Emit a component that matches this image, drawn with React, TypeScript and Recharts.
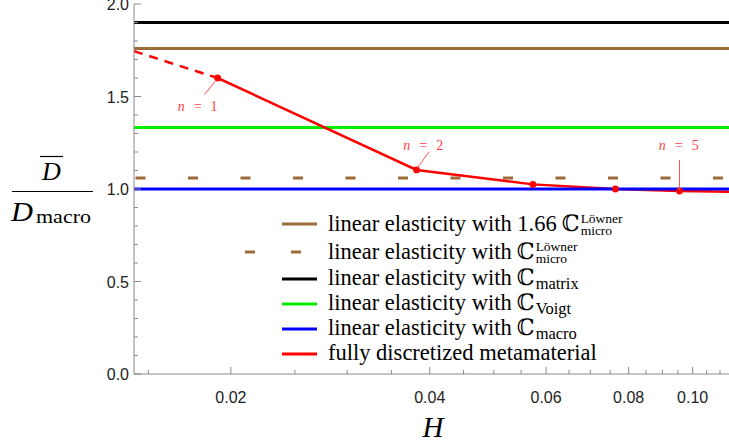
import { Legend, Line, LineChart, ReferenceLine, XAxis, YAxis } from "recharts";

// discretized metamaterial, n = 1..5
const nValues = [1, 2, 3, 4, 5];
const hValues = [0.0191, 0.0382, 0.0573, 0.0764, 0.0955];
const ratioValues = [1.6, 1.103, 1.025, 1.0, 0.989];
const tailH = 0.1135;
const tailRatio = 0.985;

// dashed extrapolation towards small H
const extrapH = [0.01427, 0.0191];
const extrapRatio = [1.745, 1.6];

// constant reference levels
const matrixLevel = 1.9;
const loewner166Level = 1.76;
const voigtLevel = 1.333;
const loewnerLevel = 1.06;
const macroLevel = 1.0;

const xDomain = [0.01427, 0.1135];
const xTicks = [
  0.015, 0.02, 0.025, 0.03, 0.035, 0.04, 0.045, 0.05, 0.055, 0.06, 0.065, 0.07,
  0.075, 0.08, 0.085, 0.09, 0.095, 0.1, 0.105, 0.11,
];
const xLabelTicks = [0.02, 0.04, 0.06, 0.08, 0.1];
const yTicks = [
  0, 0.1, 0.2, 0.3, 0.4, 0.5, 0.6, 0.7, 0.8, 0.9, 1.0, 1.1, 1.2, 1.3, 1.4, 1.5,
  1.6, 1.7, 1.8, 1.9, 2.0,
];
const yLabelTicks = [0, 0.5, 1.0, 1.5, 2.0];

const legendLabels = [
  { text: "linear elasticity with 1.66", sup: "Löwner", sub: "micro" },
  { text: "linear elasticity with", sup: "Löwner", sub: "micro" },
  { text: "linear elasticity with", sub: "matrix" },
  { text: "linear elasticity with", sub: "Voigt" },
  { text: "linear elasticity with", sub: "macro" },
  { text: "fully discretized metamaterial" },
];

const BROWN = "#9c6b38";
const RED = "#ff0000";
const GREEN = "#00f000";
const AXIS = "#8a8a8a";
const SERIF = "'Liberation Serif', 'DejaVu Serif', serif";
const SANS = "'Liberation Sans', Arial, sans-serif";

const legendStyles = [
  { color: BROWN, dashed: false },
  { color: BROWN, dashed: true },
  { color: "#000000", dashed: false },
  { color: GREEN, dashed: false },
  { color: "#0000ff", dashed: false },
  { color: RED, dashed: false },
];

const solidData = hValues
  .map((h, i) => ({ H: h, r: ratioValues[i], n: nValues[i] }))
  .concat([{ H: tailH, r: tailRatio, n: 0 }]);
const dashedData = extrapH.map((h, i) => ({ H: h, r: extrapRatio[i] }));

const isIn = (v: number, list: number[]) => list.some((t) => Math.abs(t - v) < 1e-6);

const XTickBottom = (props: any) => {
  const { x, y, payload } = props;
  const major = isIn(payload.value, xLabelTicks);
  return (
    <g>
      <line x1={x} x2={x} y1={y} y2={y - (major ? 7 : 4)} stroke={AXIS} />
      {major && (
        <text x={x} y={y + 29} textAnchor="middle" fontFamily={SANS} fontSize={16} fill="#222">
          {payload.value.toFixed(2)}
        </text>
      )}
    </g>
  );
};

const XTickTop = (props: any) => {
  const { x, y, payload } = props;
  const major = isIn(payload.value, xLabelTicks);
  return <line x1={x} x2={x} y1={y} y2={y + (major ? 7 : 4)} stroke={AXIS} />;
};

const YTick = (props: any) => {
  const { x, y, payload } = props;
  const major = isIn(payload.value, yLabelTicks);
  return (
    <g>
      <line x1={x} x2={x + (major ? 7 : 4)} y1={y} y2={y} stroke={AXIS} />
      {major && (
        <text x={x - 5} y={y + 6} textAnchor="end" fontFamily={SANS} fontSize={16} fill="#222">
          {payload.value.toFixed(1)}
        </text>
      )}
    </g>
  );
};

// leader line + label offsets relative to the marked point
const notes: Record<number, { line: number[]; text: number[] }> = {
  1: { line: [-2.4, 3.4, -13.4, 16.7], text: [-20, 33] },
  2: { line: [0.6, -1.7, 12.6, -18.3], text: [6.7, -20] },
  5: { line: [0, -1, 0, -31], text: [-0.7, -41] },
};

const PointDot = (props: any) => {
  const { cx, cy, payload, index } = props;
  if (!payload.n) return <g key={index} />;
  const note = notes[payload.n];
  return (
    <g key={index}>
      <circle cx={cx} cy={cy} r={3.4} fill={RED} />
      {note && (
        <g>
          <line
            x1={cx + note.line[0]}
            y1={cy + note.line[1]}
            x2={cx + note.line[2]}
            y2={cy + note.line[3]}
            stroke="#ff5050"
            strokeWidth={1}
          />
          <text
            x={cx + note.text[0]}
            y={cy + note.text[1]}
            textAnchor="middle"
            fontFamily={SERIF}
            fontSize={14}
            fill="#ff4040"
          >
            <tspan fontStyle="italic">n</tspan>
            <tspan dx={9}>=</tspan>
            <tspan dx={9}>{payload.n}</tspan>
          </text>
        </g>
      )}
    </g>
  );
};

const LegendBox = () => (
  <div style={{ fontFamily: SERIF, fontSize: 22.5, color: "#000" }}>
    {legendLabels.map((lab, i) => {
      const st = legendStyles[i];
      return (
        <div
          key={i}
          style={{ display: "flex", alignItems: "center", height: lab.sup ? 28 : 25, whiteSpace: "nowrap" }}
        >
          <svg width={72} height={10} style={{ flex: "none" }}>
            {st.dashed ? (
              <line x1={0} x2={56} y1={5} y2={5} stroke={st.color} strokeWidth={3} strokeDasharray="10 36" />
            ) : (
              <line x1={37} x2={72} y1={5} y2={5} stroke={st.color} strokeWidth={3} />
            )}
          </svg>
          <span style={{ marginLeft: 11, lineHeight: 1, display: "inline-flex", alignItems: "center" }}>
            <span>{lab.text}</span>
            {lab.sub && <span style={{ marginLeft: 5 }}>ℂ</span>}
            {lab.sup ? (
              <span
                style={{
                  display: "inline-flex",
                  flexDirection: "column",
                  fontSize: 13.5,
                  lineHeight: "12.5px",
                  marginLeft: 1,
                  position: "relative",
                  top: 1,
                }}
              >
                <span>{lab.sup}</span>
                <span>{lab.sub}</span>
              </span>
            ) : (
              lab.sub && (
                <span style={{ fontSize: 16.5, lineHeight: "13px", position: "relative", top: 5, marginLeft: 1 }}>
                  {lab.sub}
                </span>
              )
            )}
          </span>
        </div>
      );
    })}
  </div>
);

export default function App() {
  return (
    <div style={{ position: "fixed", left: 0, top: 0, width: 729, height: 446, background: "#fff", overflow: "hidden" }}>
      <LineChart width={729} height={446} margin={{ top: 4, right: 0, bottom: 0, left: 0 }}>
        <XAxis
          xAxisId="b"
          dataKey="H"
          type="number"
          scale="log"
          domain={xDomain}
          allowDataOverflow
          ticks={xTicks}
          interval={0}
          height={72}
          tickSize={0}
          tickMargin={0}
          tickLine={false}
          axisLine={{ stroke: AXIS }}
          tick={<XTickBottom />}
        />
        <XAxis
          xAxisId="t"
          orientation="top"
          dataKey="H"
          type="number"
          scale="log"
          domain={xDomain}
          allowDataOverflow
          ticks={xTicks}
          interval={0}
          height={0}
          tickSize={0}
          tickMargin={0}
          tickLine={false}
          axisLine={{ stroke: AXIS }}
          tick={<XTickTop />}
        />
        <YAxis
          type="number"
          domain={[0, 2]}
          allowDataOverflow
          ticks={yTicks}
          interval={0}
          width={134}
          tickSize={0}
          tickMargin={0}
          tickLine={false}
          axisLine={{ stroke: AXIS }}
          tick={<YTick />}
        />
        <ReferenceLine xAxisId="b" y={loewnerLevel} stroke={BROWN} strokeWidth={3} strokeDasharray="10 42.5" strokeDashoffset={-1.5} />
        <ReferenceLine xAxisId="b" y={matrixLevel} stroke="#000000" strokeWidth={3} />
        <ReferenceLine xAxisId="b" y={loewner166Level} stroke={BROWN} strokeWidth={3} />
        <ReferenceLine xAxisId="b" y={voigtLevel} stroke={GREEN} strokeWidth={3} />
        <Line
          xAxisId="b"
          data={solidData}
          dataKey="r"
          stroke={RED}
          strokeWidth={2.5}
          dot={<PointDot />}
          activeDot={false}
          isAnimationActive={false}
        />
        <ReferenceLine xAxisId="b" y={macroLevel} stroke="#0000ff" strokeWidth={3} />
        <Line
          xAxisId="b"
          data={dashedData}
          dataKey="r"
          stroke={RED}
          strokeWidth={2.5}
          strokeDasharray="9 7"
          dot={false}
          activeDot={false}
          isAnimationActive={false}
        />
        <Legend
          layout="vertical"
          align="center"
          verticalAlign="middle"
          wrapperStyle={{ left: 245, top: 210, width: 480 }}
          content={() => <LegendBox />}
        />
      </LineChart>
      {/* axis titles: D-bar over D_macro, and H */}
      <svg width={729} height={446} style={{ position: "absolute", left: 0, top: 0, pointerEvents: "none" }}>
        <g fontFamily={SERIF} fill="#000">
          <line x1={40} x2={63} y1={156.5} y2={156.5} stroke="#000" strokeWidth={1.2} />
          <text x={51.5} y={180} textAnchor="middle" fontStyle="italic" fontSize={26}>
            D
          </text>
          <line x1={12} x2={93} y1={191.5} y2={191.5} stroke="#000" strokeWidth={1.2} />
          <text x={11} y={221} fontStyle="italic" fontSize={27} textLength={22} lengthAdjust="spacingAndGlyphs">
            D
          </text>
          <text x={36} y={223} fontSize={19} textLength={55} lengthAdjust="spacingAndGlyphs">
            macro
          </text>
          <text x={433} y={437} textAnchor="middle" fontStyle="italic" fontSize={29}>
            H
          </text>
        </g>
      </svg>
    </div>
  );
}
